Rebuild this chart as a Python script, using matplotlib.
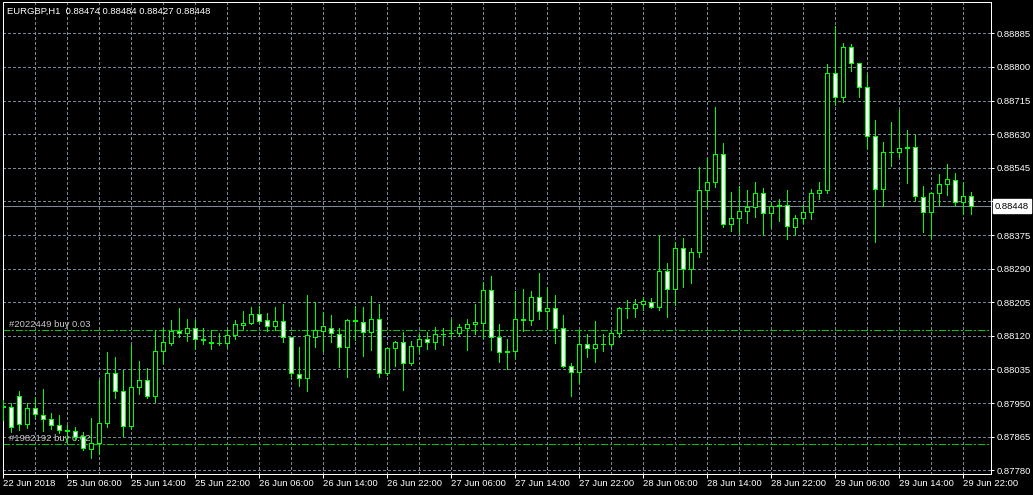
import matplotlib
matplotlib.use("Agg")
import matplotlib.pyplot as plt
import matplotlib.transforms as mtransforms

# ---------------- data (EURGBP, H1) ----------------
symbol = "EURGBP,H1"

opens = [0.87943, 0.87939, 0.87969, 0.87896, 0.87937, 0.87919, 0.87909, 0.87894,
         0.87881, 0.87880, 0.87867, 0.87833, 0.87848, 0.87899, 0.88025, 0.87981,
         0.87893, 0.87990, 0.88008, 0.87969, 0.88082, 0.88101, 0.88131, 0.88126,
         0.88139, 0.88111, 0.88104, 0.88103, 0.88103, 0.88122, 0.88147, 0.88152,
         0.88175, 0.88160, 0.88146, 0.88158, 0.88116, 0.88023, 0.88013, 0.88118,
         0.88132, 0.88141, 0.88124, 0.88093, 0.88159, 0.88156, 0.88129, 0.88162,
         0.88025, 0.88089, 0.88104, 0.88051, 0.88094, 0.88111, 0.88104, 0.88125,
         0.88126, 0.88128, 0.88141, 0.88149, 0.88153, 0.88235, 0.88118, 0.88080,
         0.88082, 0.88162, 0.88160, 0.88217, 0.88184, 0.88190, 0.88139, 0.88044,
         0.88029, 0.88099, 0.88090, 0.88099, 0.88099, 0.88126, 0.88190, 0.88191,
         0.88200, 0.88205, 0.88192, 0.88285, 0.88238, 0.88341, 0.88288, 0.88331,
         0.88488, 0.88508, 0.88579, 0.88404, 0.88417, 0.88435, 0.88447, 0.88480,
         0.88430, 0.88449, 0.88450, 0.88395, 0.88419, 0.88432, 0.88480, 0.88488,
         0.88784, 0.88723, 0.88850, 0.88809, 0.88749, 0.88625, 0.88491, 0.88584,
         0.88585, 0.88596, 0.88597, 0.88471, 0.88434, 0.88480, 0.88504, 0.88514,
         0.88458, 0.88474]

highs = [0.87958, 0.87950, 0.87981, 0.87951, 0.87966, 0.87985, 0.87924, 0.87920,
         0.87895, 0.87890, 0.87878, 0.87912, 0.88008, 0.88080, 0.88066, 0.88034,
         0.88097, 0.88056, 0.88038, 0.88136, 0.88140, 0.88160, 0.88190, 0.88162,
         0.88160, 0.88139, 0.88135, 0.88127, 0.88135, 0.88160, 0.88182, 0.88194,
         0.88195, 0.88178, 0.88193, 0.88201, 0.88118, 0.88093, 0.88223, 0.88206,
         0.88181, 0.88173, 0.88139, 0.88162, 0.88195, 0.88192, 0.88221, 0.88201,
         0.88091, 0.88106, 0.88130, 0.88107, 0.88125, 0.88130, 0.88143, 0.88139,
         0.88162, 0.88150, 0.88162, 0.88201, 0.88257, 0.88271, 0.88150, 0.88111,
         0.88234, 0.88238, 0.88234, 0.88278, 0.88244, 0.88223, 0.88173, 0.88051,
         0.88132, 0.88125, 0.88158, 0.88124, 0.88133, 0.88194, 0.88211, 0.88213,
         0.88217, 0.88215, 0.88374, 0.88303, 0.88357, 0.88367, 0.88341, 0.88547,
         0.88569, 0.88698, 0.88607, 0.88483, 0.88499, 0.88489, 0.88508, 0.88493,
         0.88459, 0.88465, 0.88489, 0.88426, 0.88451, 0.88491, 0.88508, 0.88807,
         0.88904, 0.88861, 0.88858, 0.88810, 0.88782, 0.88666, 0.88611, 0.88660,
         0.88691, 0.88641, 0.88628, 0.88499, 0.88484, 0.88529, 0.88555, 0.88531,
         0.88508, 0.88484]

lows = [0.87907, 0.87878, 0.87882, 0.87886, 0.87912, 0.87880, 0.87884, 0.87874,
        0.87850, 0.87857, 0.87831, 0.87810, 0.87821, 0.87890, 0.87962, 0.87867,
        0.87887, 0.87972, 0.87962, 0.87953, 0.88051, 0.88098, 0.88116, 0.88108,
        0.88088, 0.88099, 0.88088, 0.88097, 0.88092, 0.88112, 0.88138, 0.88149,
        0.88152, 0.88132, 0.88135, 0.88105, 0.88013, 0.87993, 0.87981, 0.88093,
        0.88082, 0.88105, 0.88042, 0.88017, 0.88110, 0.88070, 0.88084, 0.88017,
        0.88021, 0.88044, 0.87983, 0.88046, 0.88077, 0.88088, 0.88088, 0.88097,
        0.88114, 0.88122, 0.88084, 0.88125, 0.88114, 0.88084, 0.88055, 0.88035,
        0.88063, 0.88133, 0.88147, 0.88162, 0.88139, 0.88101, 0.88042, 0.87968,
        0.88002, 0.88067, 0.88055, 0.88082, 0.88094, 0.88118, 0.88166, 0.88168,
        0.88185, 0.88191, 0.88185, 0.88168, 0.88198, 0.88244, 0.88253, 0.88320,
        0.88443, 0.88497, 0.88395, 0.88386, 0.88379, 0.88406, 0.88421, 0.88375,
        0.88395, 0.88411, 0.88364, 0.88375, 0.88406, 0.88416, 0.88465, 0.88482,
        0.88705, 0.88712, 0.88790, 0.88725, 0.88594, 0.88358, 0.88449, 0.88550,
        0.88573, 0.88507, 0.88461, 0.88383, 0.88367, 0.88451, 0.88476, 0.88449,
        0.88428, 0.88427]

closes = [0.87940, 0.87889, 0.87897, 0.87937, 0.87922, 0.87910, 0.87894, 0.87882,
          0.87879, 0.87865, 0.87836, 0.87848, 0.87899, 0.88025, 0.87981, 0.87893,
          0.87990, 0.88008, 0.87969, 0.88082, 0.88104, 0.88132, 0.88127, 0.88139,
          0.88111, 0.88109, 0.88103, 0.88102, 0.88122, 0.88150, 0.88152, 0.88175,
          0.88158, 0.88146, 0.88158, 0.88116, 0.88025, 0.88013, 0.88121, 0.88134,
          0.88144, 0.88127, 0.88093, 0.88160, 0.88157, 0.88129, 0.88162, 0.88025,
          0.88089, 0.88104, 0.88051, 0.88094, 0.88111, 0.88104, 0.88125, 0.88124,
          0.88128, 0.88142, 0.88149, 0.88154, 0.88235, 0.88118, 0.88080, 0.88082,
          0.88162, 0.88160, 0.88217, 0.88184, 0.88191, 0.88139, 0.88045, 0.88029,
          0.88099, 0.88090, 0.88099, 0.88100, 0.88126, 0.88190, 0.88191, 0.88200,
          0.88207, 0.88192, 0.88285, 0.88238, 0.88341, 0.88288, 0.88331, 0.88489,
          0.88508, 0.88579, 0.88402, 0.88417, 0.88435, 0.88447, 0.88480, 0.88430,
          0.88449, 0.88450, 0.88398, 0.88419, 0.88432, 0.88480, 0.88488, 0.88784,
          0.88723, 0.88850, 0.88809, 0.88749, 0.88625, 0.88491, 0.88584, 0.88585,
          0.88594, 0.88597, 0.88474, 0.88433, 0.88480, 0.88504, 0.88516, 0.88458,
          0.88474, 0.88448]

time_labels = ["22 Jun 2018", "25 Jun 06:00", "25 Jun 14:00", "25 Jun 22:00",
               "26 Jun 06:00", "26 Jun 14:00", "26 Jun 22:00", "27 Jun 06:00",
               "27 Jun 14:00", "27 Jun 22:00", "28 Jun 06:00", "28 Jun 14:00",
               "28 Jun 22:00", "29 Jun 06:00", "29 Jun 14:00", "29 Jun 22:00"]
bars_per_label = 8
bars_per_grid = 4

price_levels = [0.87780, 0.87865, 0.87950, 0.88035, 0.88120, 0.88205, 0.88290,
                0.88375, 0.88460, 0.88545, 0.88630, 0.88715, 0.88800, 0.88885]

order_tickets = ["#2022449", "#1982192"]
order_types = ["buy", "buy"]
order_lots = [0.03, 0.02]
order_prices = [0.88134, 0.87846]

bid_price = 0.88448
price_window = (0.8777065, 0.8896293)
bar_window = (-0.1, 123.4)

# ---------------- style ----------------
W, H = 1033, 495
FG = "white"
CANDLE = "#00ff00"
GRID = "#778899"
ORDER = "#00c800"
FONT = "Liberation Sans"
FS = 6.8
PX = 0.72  # one pixel in points at 100 dpi

plt.rcParams["font.family"] = [FONT, "DejaVu Sans"]

fig = plt.figure(figsize=(W / 100, H / 100), dpi=100, facecolor="black")
left, right, top, bottom = 2.5, 990.5, 2.5, 474.0
ax = fig.add_axes([left / W, (H - bottom) / H, (right - left) / W, (bottom - top) / H])
ax.set_facecolor("black")
ax.set_xlim(*bar_window)
ax.set_ylim(*price_window)

for s in ax.spines.values():
    s.set_color(FG)
    s.set_linewidth(PX)

n = len(opens)
xs = list(range(n))

# grid
for p in price_levels:
    ax.axhline(p, color=GRID, lw=PX, dashes=(3 * PX, 3 * PX), antialiased=False, zorder=1)
for k in range(bars_per_grid, n, bars_per_grid):
    ax.axvline(k, color=GRID, lw=PX, dashes=(3 * PX, 3 * PX), antialiased=False, zorder=1)

# bid line
ax.axhline(bid_price, color=GRID, lw=PX, antialiased=False, zorder=1.5)

# order lines
tr = mtransforms.blended_transform_factory(ax.transAxes, ax.transData)
for t, ty, lot, p in zip(order_tickets, order_types, order_lots, order_prices):
    ax.axhline(p, color=ORDER, lw=PX, dashes=(9 * PX, 3 * PX, 2 * PX, 3 * PX),
               antialiased=False, zorder=1.6)
    ax.annotate(f"{t} {ty} {lot:.2f}", xy=(0, p), xycoords=tr,
                xytext=(6.5 * PX, 6 * PX), textcoords="offset points",
                color="#c8c8c8", fontsize=FS, va="center", ha="left", zorder=1.7)

# candles
bottoms = [min(o, c) for o, c in zip(opens, closes)]
heights = [abs(c - o) for o, c in zip(opens, closes)]
fills = ["black" if c > o else "white" for o, c in zip(opens, closes)]
ax.vlines(xs, lows, highs, color=CANDLE, lw=PX, antialiased=False, zorder=3)
ax.bar(xs, heights, width=0.5, bottom=bottoms, color=fills, edgecolor=CANDLE,
       linewidth=PX, antialiased=False, zorder=4)

# axes ticks
ax.yaxis.tick_right()
ax.set_yticks(price_levels)
ax.set_yticklabels([f"{p:.5f}" for p in price_levels])
ax.tick_params(axis="y", colors=FG, length=3 * PX, width=PX, pad=2, labelsize=FS)

xt = [i * bars_per_label for i in range(len(time_labels))]
ax.set_xticks(xt)
ax.set_xticklabels(time_labels, ha="left")
ax.tick_params(axis="x", colors=FG, length=4 * PX, width=PX, pad=1, labelsize=FS)

# bid label box
ax.text(1.0 + 4.5 / (right - left), bid_price, f"{bid_price:.5f}", transform=tr,
        color="black", fontsize=FS, va="center", ha="left", clip_on=False, zorder=10,
        bbox=dict(boxstyle="square,pad=0.25", facecolor="white", edgecolor="white"))

# header
fig.text(7 / W, 1 - 11 / H,
         f"{symbol}  {opens[-1]:.5f} {highs[-1]:.5f} {lows[-1]:.5f} {closes[-1]:.5f}",
         color=FG, fontsize=FS, va="center", ha="left")

fig.savefig("out.png", dpi=100, facecolor="black")
